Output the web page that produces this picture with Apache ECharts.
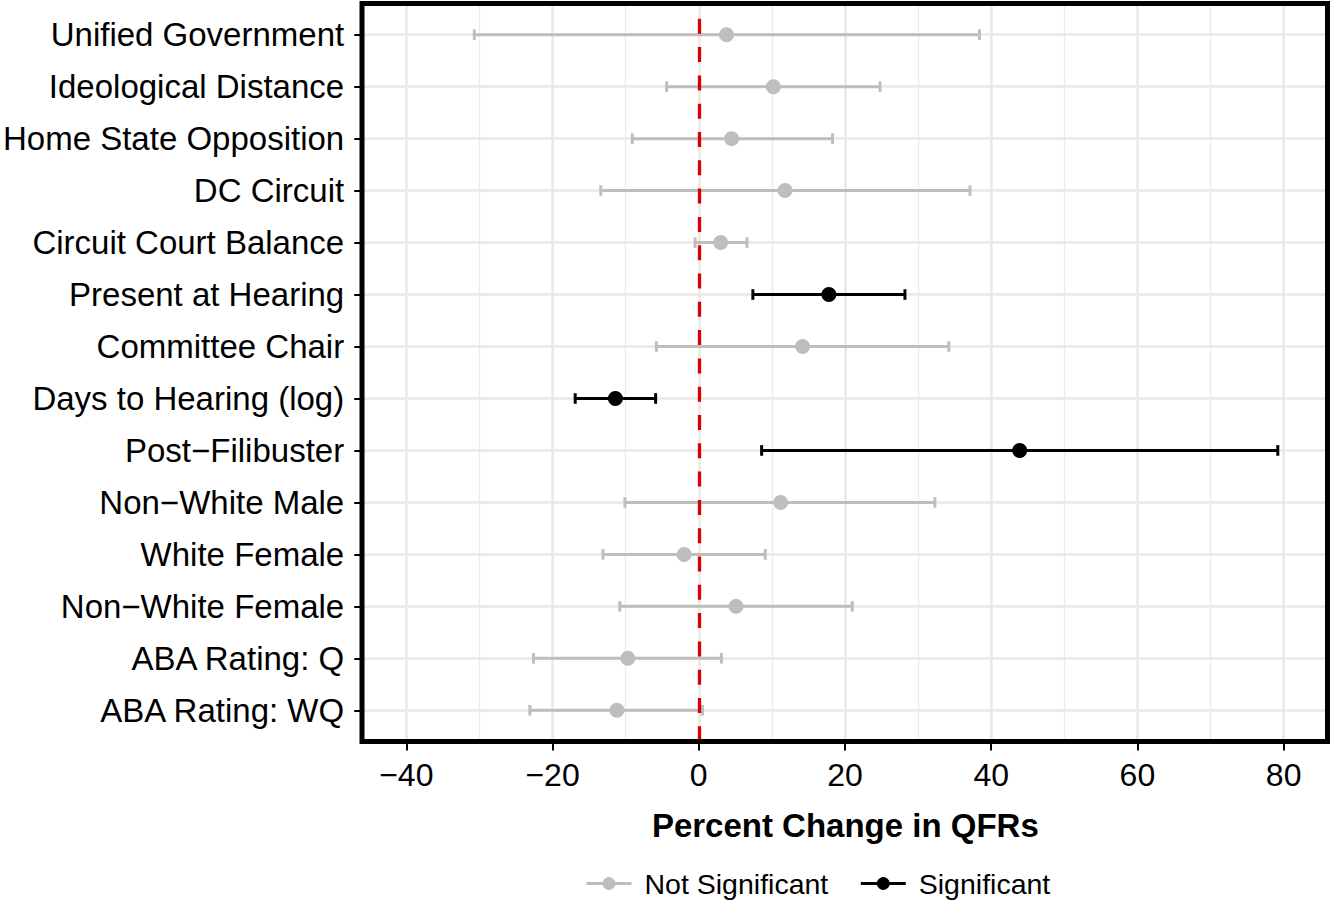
<!DOCTYPE html>
<html>
<head>
<meta charset="utf-8">
<title>Percent Change in QFRs</title>
<script src="https://cdn.jsdelivr.net/npm/echarts@6/dist/echarts.min.js"></script>
<style>
	html, body { margin: 0; padding: 0; background: #fff; }
	#qfrChart { width: 1332px; height: 903px; }
</style>
</head>
<body>
<div id="qfrChart"></div>
<script>
	// values, top row first
	const variables = [
		'Unified Government', 'Ideological Distance', 'Home State Opposition', 'DC Circuit',
		'Circuit Court Balance', 'Present at Hearing', 'Committee Chair', 'Days to Hearing (log)',
		'Post\u2212Filibuster', 'Non\u2212White Male', 'White Female', 'Non\u2212White Female',
		'ABA Rating: Q', 'ABA Rating: WQ'
	];
	const estimates   = [3.8, 10.2, 4.5, 11.8, 3.0, 17.8, 14.2, -11.4, 43.9, 11.2, -2.0, 5.1, -9.7, -11.2];
	const lowerBounds = [-30.7, -4.4, -9.1, -13.4, -0.5, 7.4, -5.8, -16.9, 8.6, -10.1, -13.1, -10.8, -22.6, -23.1];
	const upperBounds = [38.4, 24.8, 18.3, 37.1, 6.6, 28.2, 34.2, -5.9, 79.2, 32.3, 9.1, 21.0, 3.1, 0.5];
	const significant = [0, 0, 0, 0, 0, 1, 0, 1, 1, 0, 0, 0, 0, 0];
	const groupNames  = ['Not Significant', 'Significant'];
	const xTicks      = [-40, -20, 0, 20, 40, 60, 80];
	const xMinorTicks = [-30, -10, 10, 30, 50, 70];

	const groupColors = ['#bebebe', '#000000'];
	const rowIndex = variables.map((v, i) => i);
	const font = "'Liberation Sans', Arial, sans-serif";

	const grid = { left: 362, right: 4.5, top: 3.5, bottom: 161.5 };
	const xRange = { min: -45.9, max: 86 };

	function barData(g) {
		return rowIndex.filter(i => significant[i] === g).map(i => [lowerBounds[i], upperBounds[i], i]);
	}
	function pointData(g) {
		return rowIndex.filter(i => significant[i] === g).map(i => [estimates[i], i]);
	}
	function minusLabel(v) {
		return v < 0 ? '\u2212' + Math.abs(v) : String(v);
	}

	function makeBarRenderer(color) {
		return function (params, api) {
			const row = api.value(2);
			const a = api.coord([api.value(0), row]);
			const b = api.coord([api.value(1), row]);
			const cap = 5.3;
			const style = { stroke: color, lineWidth: 3, fill: null };
			return {
				type: 'group',
				children: [
					{ type: 'line', shape: { x1: a[0], y1: a[1], x2: b[0], y2: b[1] }, style: style },
					{ type: 'line', shape: { x1: a[0], y1: a[1] - cap, x2: a[0], y2: a[1] + cap }, style: style },
					{ type: 'line', shape: { x1: b[0], y1: b[1] - cap, x2: b[0], y2: b[1] + cap }, style: style }
				]
			};
		};
	}

	const chart = echarts.init(document.getElementById('qfrChart'), null, { renderer: 'svg' });

	const series = [];
	groupNames.forEach((name, g) => {
		series.push({
			type: 'custom',
			name: name + ' CI',
			z: 2,
			renderItem: makeBarRenderer(groupColors[g]),
			encode: { x: [0, 1], y: 2 },
			data: barData(g),
			silent: true
		});
	});
	groupNames.forEach((name, g) => {
		series.push({
			type: 'line',
			name: name,
			z: 4,
			symbol: 'circle',
			symbolSize: 15,
			showSymbol: true,
			itemStyle: { color: groupColors[g] },
			lineStyle: { color: groupColors[g], width: 3, opacity: 0 },
			data: pointData(g),
			silent: true
		});
	});
	// red reference line at zero
	series.push({
		type: 'line',
		name: 'zero',
		z: 3,
		data: [],
		markLine: {
			silent: true,
			symbol: 'none',
			label: { show: false },
			lineStyle: { color: '#dd0000', width: 3.3, type: [15, 13.3], dashOffset: 13.3 },
			data: [{ xAxis: 0 }]
		}
	});

	chart.setOption({
		animation: false,
		grid: grid,
		legend: {
			data: groupNames,
			left: 580,
			top: 864,
			itemWidth: 45,
			itemHeight: 16,
			itemGap: 31,
			lineStyle: { width: 3, opacity: 1 },
			textStyle: { fontFamily: font, fontSize: 28.5, color: '#000', padding: [0, 0, 0, 8] }
		},
		xAxis: [
			{
				type: 'value',
				min: xRange.min,
				max: xRange.max,
				name: 'Percent Change in QFRs',
				nameLocation: 'middle',
				nameGap: 67,
				nameTextStyle: { fontFamily: font, fontSize: 33, fontWeight: 'bold', color: '#000' },
				axisLine: { show: false, onZero: false },
				axisTick: { show: true, length: 9, customValues: xTicks, lineStyle: { color: '#000', width: 2 } },
				axisLabel: { customValues: xTicks, formatter: minusLabel, margin: 17, fontFamily: font, fontSize: 32, color: '#000' },
				splitLine: { show: true, lineStyle: { color: '#e8e8e8', width: 2.5 } }
			},
			{
				type: 'value',
				position: 'bottom',
				min: xRange.min,
				max: xRange.max,
				axisLine: { show: false, onZero: false },
				axisTick: { show: false, customValues: xMinorTicks },
				axisLabel: { show: false },
				splitLine: { show: true, lineStyle: { color: '#ebebeb', width: 1.3 } }
			}
		],
		yAxis: {
			type: 'value',
			inverse: true,
			min: -0.6,
			max: 13.6,
			axisLine: { show: false, onZero: false },
			axisTick: { show: true, length: 9, customValues: rowIndex, lineStyle: { color: '#000', width: 2 } },
			axisLabel: {
				customValues: rowIndex,
				formatter: v => variables[v],
				margin: 19,
				fontFamily: font,
				fontSize: 33,
				color: '#000'
			},
			splitLine: { show: true, lineStyle: { color: '#e8e8e8', width: 2.5 } }
		},
		graphic: [
			{
				type: 'rect',
				z: 100,
				silent: true,
				shape: { x: grid.left, y: grid.top, width: 1332 - grid.left - grid.right, height: 903 - grid.top - grid.bottom },
				style: { fill: null, stroke: '#000', lineWidth: 5 }
			}
		],
		series: series
	});
</script>
</body>
</html>
